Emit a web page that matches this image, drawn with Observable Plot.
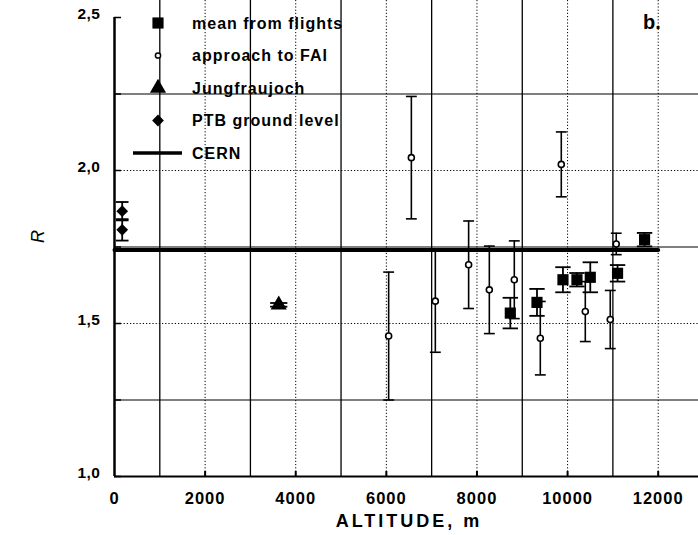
<!DOCTYPE html>
<html><head><meta charset="utf-8">
<script src="https://cdn.jsdelivr.net/npm/d3@7"></script>
<script src="https://cdn.jsdelivr.net/npm/@observablehq/plot@0.6"></script>
<style>
html,body{margin:0;padding:0;background:#fff;overflow:hidden;width:698px;height:535px;}
#wrap{position:relative;width:720px;height:535px;}
#wrap svg.legend{position:absolute;left:0;top:0;pointer-events:none;}
#wrap svg.main text{font-family:'Liberation Sans', Arial, sans-serif;font-size:16.5px;font-weight:bold;letter-spacing:1px;}
#wrap svg.main text.ytick{font-size:15.5px;letter-spacing:0.5px;}
#wrap svg.main text.xtitle{font-size:18px;letter-spacing:3px;}
#wrap svg.main text.ytitle{font-size:18px;font-style:italic;font-weight:normal;letter-spacing:0;}
</style></head><body><div id="wrap"></div>
<script>
// mean from flights
const flightAlt = [8736, 9325, 9898, 10207, 10501, 11103, 11699];
const flightR   = [1.534, 1.569, 1.643, 1.643, 1.651, 1.664, 1.774];
const flightErr = [0.050, 0.044, 0.041, 0.022, 0.049, 0.027, 0.022];
// approach to FAI
const faiAlt = [6051, 6552, 7081, 7816, 8273, 8824, 9398, 9861, 10391, 10942, 11074];
const faiR   = [1.459, 2.042, 1.573, 1.692, 1.610, 1.643, 1.452, 2.020, 1.539, 1.513, 1.760];
const faiErr = [0.209, 0.200, 0.167, 0.143, 0.143, 0.127, 0.120, 0.106, 0.098, 0.095, 0.035];
// Jungfraujoch
const jungAlt = [3625];
const jungR   = [1.561];
const jungErr = [0.006];
// PTB ground level
const ptbAlt = [170, 170];
const ptbR   = [1.867, 1.806];
const ptbErr = [0.030, 0.035];
// CERN
const cernR = 1.74;
const cernAlt = [0, 12000];

// axes / grid
const xLabelTicks = [0, 2000, 4000, 6000, 8000, 10000, 12000];
const gridSolidX = [1000, 3000, 5000, 7000, 9000, 11000];
const gridDotX = [2000, 4000, 6000, 8000, 10000, 12000];
const yLabelTicks = [1.0, 1.5, 2.0, 2.5];
const yTicks = [1.0, 1.25, 1.5, 1.75, 2.0, 2.25, 2.5];
const gridSolidY = [1.25, 1.75, 2.25];
const gridDotY = [1.5, 2.0];

const legendLabels = ["mean from flights", "approach to FAI", "Jungfraujoch", "PTB ground level", "CERN"];
const legendSymbols = ["square", "circle", "triangle", "diamond", "line"];
const panelLabel = "b.";
const xLabel = "ALTITUDE, m";
const yLabel = "R";

const rows = (alt, r, err) => alt.map((a, i) => ({alt: a, r: r[i], lo: r[i] - err[i], hi: r[i] + err[i]}));
const flights = rows(flightAlt, flightR, flightErr);
const fai = rows(faiAlt, faiR, faiErr);
const jung = rows(jungAlt, jungR, jungErr);
const ptb = rows(ptbAlt, ptbR, ptbErr);
const cern = cernAlt.map(a => ({alt: a, r: cernR}));

const W = 720, H = 535, mL = 114, mR = 17, mT = 17, mB = 59;
const plotH = H - mT - mB, plotW = W - mL - mR;

function errMarks(data, cap, sw) {
  return [
    Plot.ruleX(data, {x: "alt", y1: "lo", y2: "hi", stroke: "#000", strokeWidth: sw}),
    Plot.link(data, {x1: d => d.alt - cap, x2: d => d.alt + cap, y1: "hi", y2: "hi", stroke: "#000", strokeWidth: sw}),
    Plot.link(data, {x1: d => d.alt - cap, x2: d => d.alt + cap, y1: "lo", y2: "lo", stroke: "#000", strokeWidth: sw})
  ];
}

const fmtY = d => d.toFixed(1).replace(".", ",");
const fmtX = d => String(d);

const chart = Plot.plot({
  width: W, height: H,
  marginLeft: mL, marginRight: mR, marginTop: mT, marginBottom: mB,
  x: {domain: [0, 13000]},
  y: {domain: [1, 2.5]},
  style: {fontFamily: "'Liberation Sans', Arial, sans-serif", fontSize: "15px", fontWeight: "bold", color: "#000", background: "#fff", overflow: "visible"},
  marks: [
    Plot.ruleX(gridSolidX, {stroke: "#000", strokeWidth: 1.3, insetTop: -mT}),
    Plot.ruleX(gridDotX, {stroke: "#000", strokeWidth: 1, strokeDasharray: "1.2,2", insetTop: -mT}),
    Plot.ruleY(gridSolidY, {stroke: "#000", strokeWidth: 1.2, insetRight: -mR}),
    Plot.ruleY(gridDotY, {stroke: "#000", strokeWidth: 1, strokeDasharray: "1.2,2", insetRight: -mR}),
    Plot.line(cern, {x: "alt", y: "r", stroke: "#000", strokeWidth: 4}),
    // axis lines and inward ticks
    Plot.ruleX([0], {stroke: "#000", strokeWidth: 2.5}),
    Plot.ruleY([1], {stroke: "#000", strokeWidth: 2}),
    Plot.ruleX(gridDotX, {stroke: "#000", strokeWidth: 2, insetTop: plotH - 5}),
    Plot.ruleY(yTicks, {stroke: "#000", strokeWidth: 1.5, insetRight: plotW - 7}),
    Plot.axisX({ticks: xLabelTicks, tickSize: 0, tickPadding: 16, label: null, tickFormat: fmtX}),
    Plot.axisY({ticks: yLabelTicks, tickSize: 0, tickPadding: 14, label: null, tickFormat: fmtY, dy: -3}),
    Plot.text([xLabel], {frameAnchor: "bottom", dy: 50}),
    Plot.text([yLabel], {frameAnchor: "left", dx: -76, dy: -4, rotate: -90}),
    // error bars
    ...errMarks(fai, 120, 1.6),
    ...errMarks(flights, 170, 1.8),
    ...errMarks(jung, 190, 1.8),
    ...errMarks(ptb, 140, 1.8),
    // points
    Plot.dot(fai, {x: "alt", y: "r", r: 3, fill: "#fff", stroke: "#000", strokeWidth: 1.6}),
    Plot.dot(flights, {x: "alt", y: "r", symbol: "square", r: 6.3, fill: "#000", stroke: "none"}),
    Plot.dot(jung, {x: "alt", y: "r", symbol: "triangle", r: 6, fill: "#000", stroke: "none"}),
    Plot.dot(ptb, {x: "alt", y: "r", symbol: "diamond2", r: 5.3, fill: "#000", stroke: "none"})
  ]
});
chart.classList.add("main");
const wrap = document.getElementById("wrap");
wrap.appendChild(chart);

// tag special texts by content
const yTickTexts = new Set(yLabelTicks.map(fmtY));
chart.querySelectorAll("text").forEach(el => {
  const t = el.textContent;
  if (yTickTexts.has(t)) el.classList.add("ytick");
  else if (t === xLabel) el.classList.add("xtitle");
  else if (t === yLabel) el.classList.add("ytitle");
});

// legend overlay
const leg = d3.select(wrap).append("svg").attr("class", "legend").attr("width", 698).attr("height", 200)
  .style("font-family", "'Liberation Sans', Arial, sans-serif");
const symMap = {square: d3.symbolSquare, triangle: d3.symbolTriangle, diamond: d3.symbolDiamond2, circle: d3.symbolCircle};
const symR = {square: 6.3, triangle: 6, diamond: 5.3, circle: 2.6};
legendLabels.forEach((lab, i) => {
  const y = 23 + 32.5 * i;
  const s = legendSymbols[i];
  if (s === "line") {
    leg.append("line").attr("x1", 133).attr("x2", 182).attr("y1", y).attr("y2", y).attr("stroke", "#000").attr("stroke-width", 3.5);
  } else if (s === "circle") {
    leg.append("circle").attr("cx", 158).attr("cy", y).attr("r", symR[s]).attr("fill", "#fff").attr("stroke", "#000").attr("stroke-width", 1.5);
  } else {
    leg.append("path").attr("transform", `translate(158,${y})`)
      .attr("d", d3.symbol(symMap[s], Math.PI * symR[s] * symR[s])()).attr("fill", "#000");
  }
  leg.append("text").attr("x", 192).attr("y", y).attr("dy", "0.35em")
    .style("font-size", "16px").style("font-weight", "bold").style("letter-spacing", "1px").text(lab);
});
leg.append("text").attr("x", 643).attr("y", 22).attr("dy", "0.35em").style("font-size", "20px").style("font-weight", "bold").text(panelLabel);
</script>
</body></html>
